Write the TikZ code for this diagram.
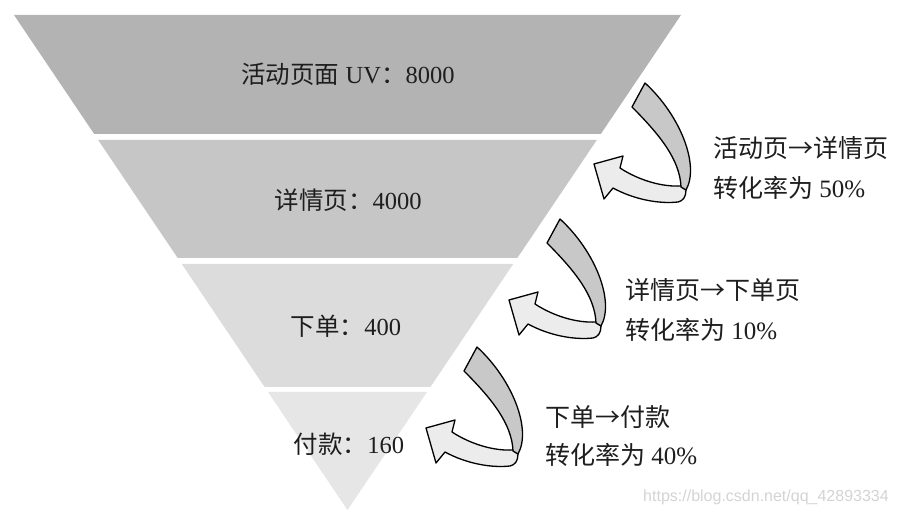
\documentclass[tikz,border=0pt]{standalone}
\usepackage{fontspec}
\setmainfont{Liberation Serif}
\newfontfamily\cjk{Noto Sans CJK SC}
\newfontfamily\wmfont{Liberation Sans}
\definecolor{bandA}{HTML}{B3B3B3}
\definecolor{bandB}{HTML}{C6C6C6}
\definecolor{bandC}{HTML}{DCDCDC}
\definecolor{bandD}{HTML}{E6E6E6}
\definecolor{ribdark}{HTML}{C8C8C8}
\definecolor{riblight}{HTML}{ECECEC}
\definecolor{txt}{HTML}{1E1E1E}
\definecolor{wm}{HTML}{D4D4D4}
\tikzset{
  band/.style={draw=none},
  ftext/.style={inner sep=0pt, text=txt, font=\fontsize{24.5}{29}\selectfont},
  rtext/.style={inner sep=0pt, anchor=west, text=txt, font=\fontsize{25}{30}\selectfont},
  ribbon/.style={draw=black, line width=1.3pt, line join=round},
}
\newcommand{\turnarrow}[2]{%
  \begin{scope}[shift={(#1,#2)}]
    \path[ribbon, fill=riblight]
      (686,190) .. controls (686,197) and (683,201) .. (678,202)
      .. controls (660,204) and (635,200) .. (613,188)
      -- (604,199) -- (594,164) -- (623,156) -- (620,168)
      .. controls (640,181) and (663,187) .. (681,186) -- cycle;
    \path[ribbon, fill=ribdark]
      (645,83) .. controls (680,115) and (700,165) .. (686,190)
      -- (681,187) .. controls (680,160) and (660,135) .. (632,107) -- cycle;
  \end{scope}}
\begin{document}
\begin{tikzpicture}[x=1pt,y=-1pt]
\useasboundingbox (0,0) rectangle (898,518);
\fill[white] (0,0) rectangle (898,518);
% funnel bands
\fill[band, bandA] (14,15) -- (681,15) -- (600.8,134) -- (94.2,134) -- cycle;
\fill[band, bandB] (98.2,140) -- (596.8,140) -- (517.3,258) -- (177.7,258) -- cycle;
\fill[band, bandC] (181.8,264) -- (513.2,264) -- (430.4,387) -- (264.6,387) -- cycle;
\fill[band, bandD] (268,392) -- (427,392) -- (347.5,510) -- cycle;
% funnel labels
\node[ftext] (b1) at (348,74) {{\cjk 活动页面} UV{\cjk ：}8000};
\node[ftext] (b2) at (348,200) {{\cjk 详情页：}4000};
\node[ftext] (b3) at (346,326) {{\cjk 下单：}400};
\node[ftext] (b4) at (349,444) {{\cjk 付款：}160};
% turning arrows
\turnarrow{0}{0}
\turnarrow{-85}{136}
\turnarrow{-168}{264}
% conversion labels
\node[rtext] (r1a) at (713,148) {\cjk 活动页→详情页};
\node[rtext] (r1b) at (713,188) {{\cjk 转化率为} 50\%};
\node[rtext] (r2a) at (625,290) {\cjk 详情页→下单页};
\node[rtext] (r2b) at (625,330) {{\cjk 转化率为} 10\%};
\node[rtext] (r3a) at (545,417) {\cjk 下单→付款};
\node[rtext] (r3b) at (545,455) {{\cjk 转化率为} 40\%};
% watermark
\node[inner sep=0pt, text=wm, font=\fontsize{16}{16}\selectfont\wmfont] (wm) at (766,497) {https://blog.csdn.net/qq\_42893334};
\end{tikzpicture}
\end{document}
